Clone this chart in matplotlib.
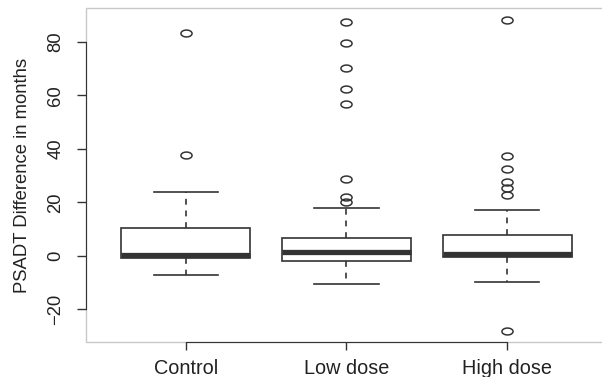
import matplotlib.pyplot as plt
from matplotlib.patches import Rectangle
from matplotlib.path import Path
import numpy as np

# === data ===
groups = ['Control', 'Low dose', 'High dose']
q1 = [-0.7, -1.9, -0.6]
median = [0.5, 1.4, 0.8]
q3 = [10.5, 6.6, 7.9]
whisker_lo = [-7.1, -10.6, -9.7]
whisker_hi = [24.0, 17.9, 17.2]
fliers = [
    [83.2, 37.8],
    [87.3, 79.7, 70.2, 62.4, 56.7, 28.8, 22.0, 20.3],
    [88.2, 37.4, 32.5, 27.5, 25.3, 22.8, -27.9],
]
yticks = [-20, 0, 20, 40, 60, 80]

plt.rcParams['font.family'] = ['Liberation Sans', 'DejaVu Sans']
dark = '#333333'

stats = []
for i, g in enumerate(groups):
    stats.append(dict(label=g, q1=q1[i], med=median[i], q3=q3[i],
                      whislo=whisker_lo[i], whishi=whisker_hi[i], fliers=fliers[i]))

# slightly wide ellipse as outlier marker
t = np.linspace(0, 2 * np.pi, 40)
ellipse = Path(np.column_stack([np.cos(t), 0.62 * np.sin(t)]), closed=True)

fig = plt.figure(figsize=(6.02, 3.77), dpi=100)
ax = fig.add_axes([86 / 602, 35 / 377, 521 / 602, 334 / 377])

ax.bxp(stats, positions=[1, 2, 3], widths=0.8, patch_artist=True,
       boxprops=dict(facecolor='white', edgecolor=dark, linewidth=1.2),
       medianprops=dict(color=dark, linewidth=3.8, solid_capstyle='butt'),
       whiskerprops=dict(color=dark, linewidth=1.2, linestyle=(0, (3.5, 3.5))),
       capprops=dict(color=dark, linewidth=1.2),
       capwidths=0.4,
       flierprops=dict(marker=ellipse, markersize=8, markerfacecolor='none',
                       markeredgecolor=dark, markeredgewidth=1.1))

ax.set_xlim(0.38, 3.62)
ax.set_ylim(-32.2, 92.7)

# R style frame: light box, dark axis segments
for s in ax.spines.values():
    s.set_visible(False)
ax.add_patch(Rectangle((0, 0), 1, 1, transform=ax.transAxes, fill=False,
                       edgecolor='#c8c8c8', linewidth=1.0, clip_on=False, zorder=0))
ax.spines['left'].set_visible(True)
ax.spines['left'].set_bounds(yticks[0], yticks[-1])
ax.spines['left'].set_color(dark)
ax.spines['bottom'].set_visible(True)
ax.spines['bottom'].set_bounds(1, 3)
ax.spines['bottom'].set_color(dark)

ax.set_yticks(yticks)
ax.set_yticklabels(['\u221220', '0', '20', '40', '60', '80'])
ax.set_xticks([1, 2, 3])
ax.set_xticklabels(groups)
ax.tick_params(axis='y', length=6.5, width=1.0, color=dark, labelsize=13.3,
               labelcolor='#222222', pad=9)
ax.tick_params(axis='x', length=6, width=1.0, color=dark, labelsize=14.3,
               labelcolor='#222222', pad=6)
plt.setp(ax.get_yticklabels(), rotation=90, va='center')

ax.set_ylabel('PSADT Difference in months', fontsize=13.3, color='#222222')
ax.yaxis.set_label_coords(-0.105, 0.5)

plt.savefig('out.png', dpi=100)
